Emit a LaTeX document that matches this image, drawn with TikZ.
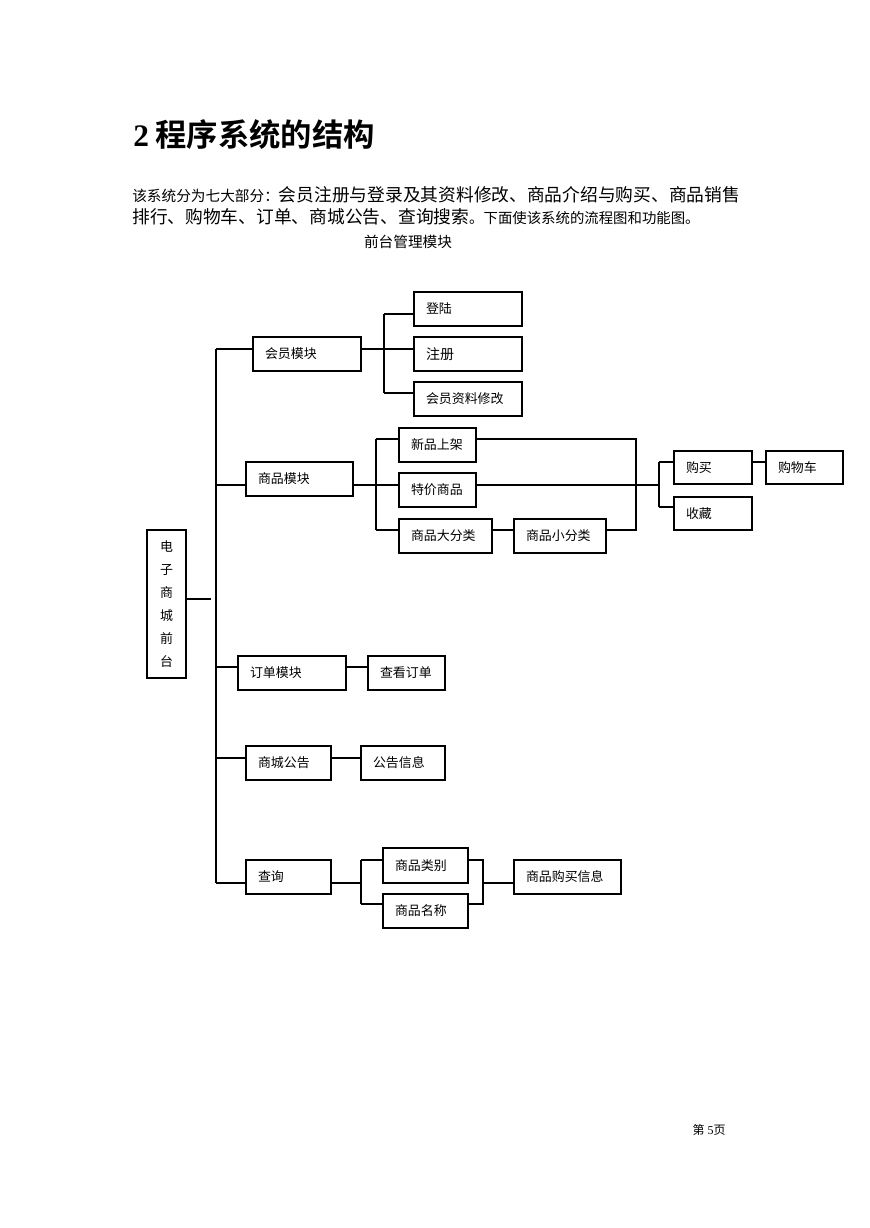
\documentclass[tikz,border=0pt]{standalone}
\usepackage{fontspec}
\setmainfont{Liberation Serif}
\newfontfamily\cjk[BoldFont={Noto Sans CJK SC Bold}]{Noto Sans CJK SC}
\begin{document}
\begin{tikzpicture}[x=0.75pt,y=-0.75pt,
  ln/.style={line width=0.9pt},
  thk/.style={line width=1.8pt},
  bx/.style={draw, line width=0.9pt, minimum height=25.5pt, inner xsep=9pt, inner ysep=0pt,
    align=left, font=\cjk\fontsize{9.7}{11}\selectfont},
  txt/.style={inner sep=0pt, anchor=base west}]
\useasboundingbox (0,0) rectangle (869,1228);
\fill[white] (0,0) rectangle (869,1228);

% heading texts
\node[txt] (title) at (133,146.5) {\bfseries\fontsize{23.5}{27}\selectfont 2\hspace{5pt}{\cjk 程序系统的结构}};
\node[txt] (intro1) at (132,201.5) {\cjk{\fontsize{11}{13}\selectfont 该系统分为七大部分：}\fontsize{13.3}{16}\selectfont 会员注册与登录及其资料修改、商品介绍与购买、商品销售};
\node[txt] (intro2) at (132,223.5) {\cjk\fontsize{13.3}{16}\selectfont 排行、购物车、订单、商城公告、查询搜索{\fontsize{10.8}{13}\selectfont 。下面使该系统的流程图和功能图。}};
\node[inner sep=0pt, anchor=base] (sub) at (408,247) {\cjk\fontsize{11}{13}\selectfont 前台管理模块};

% boxes
\node[draw, line width=0.9pt, minimum width=29.25pt, minimum height=111pt, inner sep=0pt,
  align=center, font=\cjk\fontsize{9.7}{17.25}\selectfont] (root) at (166.5,604) {电\\子\\商\\城\\前\\台};

\node[bx, text width=63pt] (hy) at (307,354) {会员模块};
\node[bx, text width=63pt] (dl) at (468,309) {登陆};
\node[bx, text width=63pt, font=\cjk\fontsize{10.5}{12}\selectfont] (zc) at (468,354) {注册};
\node[bx, text width=63pt] (zl) at (468,399) {会员资料修改};

\node[bx, text width=62.25pt] (sp) at (299.5,479) {商品模块};
\node[bx, text width=39.75pt] (xp) at (437.5,445) {新品上架};
\node[bx, text width=39.75pt] (tj) at (437.5,490) {特价商品};
\node[bx, text width=51.75pt] (dfl) at (445.5,536) {商品大分类};
\node[bx, text width=51pt] (xfl) at (560,536) {商品小分类};
\node[bx, text width=40.5pt, minimum height=24.75pt] (gm) at (713,467.5) {购买};
\node[bx, text width=40.5pt, minimum height=24.75pt] (sc) at (713,513.5) {收藏};
\node[bx, text width=39.75pt, minimum height=24.75pt] (gwc) at (804.5,467.5) {购物车};

\node[bx, text width=63pt] (dd) at (292,673) {订单模块};
\node[bx, text width=39.75pt] (ckdd) at (406.5,673) {查看订单};

\node[bx, text width=45.75pt] (scgg) at (288.5,763) {商城公告};
\node[bx, text width=45pt] (ggxx) at (403,763) {公告信息};

\node[bx, text width=45.75pt] (cx) at (288.5,877) {查询};
\node[bx, text width=45.75pt, minimum height=26.25pt] (splb) at (425.5,865.5) {商品类别};
\node[bx, text width=45.75pt] (spmc) at (425.5,911) {商品名称};
\node[bx, text width=62.25pt] (gmxx) at (567.5,877) {商品购买信息};

% junction coordinates
\coordinate (j0) at (211,599);
\coordinate (t1) at (216,349);
\coordinate (t2) at (216,485);
\coordinate (t3) at (216,667);
\coordinate (t4) at (216,758);
\coordinate (t5) at (216,883);
\coordinate (m1) at (384,314);
\coordinate (m2) at (384,349);
\coordinate (m3) at (384,393);
\coordinate (g1) at (376,439);
\coordinate (g2) at (376,485);
\coordinate (g3) at (376,530);
\coordinate (r1) at (636,439);
\coordinate (r2) at (636,530);
\coordinate (b1) at (659,462);
\coordinate (b2) at (659,485);
\coordinate (b3) at (659,507);
\coordinate (q1) at (361,860);
\coordinate (q2) at (361,883);
\coordinate (q3) at (361,904);
\coordinate (p1) at (483,860);
\coordinate (p2) at (483,883);
\coordinate (p3) at (483,904);

% connectors
\draw[ln] (root.east |- j0) -- (j0);
\draw[ln] (t1) -- (t5);
\draw[ln] (t1) -- (hy.west |- t1);
\draw[ln] (hy.east |- m2) -- (m2);
\draw[ln] (m1) -- (m3);
\draw[ln] (m1) -- (dl.west |- m1);
\draw[ln] (m2) -- (zc.west |- m2);
\draw[ln] (m3) -- (zl.west |- m3);

\draw[ln] (t2) -- (sp.west |- t2);
\draw[ln] (sp.east |- g2) -- (g2);
\draw[ln] (g1) -- (g3);
\draw[ln] (g1) -- (xp.west |- g1);
\draw[ln] (g2) -- (tj.west |- g2);
\draw[ln] (g3) -- (dfl.west |- g3);
\draw[ln] (dfl.east |- g3) -- (xfl.west |- g3);
\draw[ln] (xp.east |- r1) -- (r1) -- (r2) -- (xfl.east |- r2);
\draw[ln] (tj.east |- b2) -- (b2);
\draw[ln] (b1) -- (b3);
\draw[ln] (b1) -- (gm.west |- b1);
\draw[ln] (b3) -- (sc.west |- b3);
\draw[ln] (gm.east |- b1) -- (gwc.west |- b1);

\draw[thk] (t3) -- (dd.west |- t3);
\draw[thk] (dd.east |- t3) -- (ckdd.west |- t3);

\draw[ln] (t4) -- (scgg.west |- t4);
\draw[ln] (scgg.east |- t4) -- (ggxx.west |- t4);

\draw[ln] (t5) -- (cx.west |- t5);
\draw[ln] (cx.east |- q2) -- (q2);
\draw[ln] (q1) -- (q3);
\draw[ln] (q1) -- (splb.west |- q1);
\draw[ln] (q3) -- (spmc.west |- q3);
\draw[ln] (splb.east |- p1) -- (p1) -- (p3) -- (spmc.east |- p3);
\draw[ln] (p2) -- (gmxx.west |- p2);

% page number
\node[inner sep=0pt, anchor=base] (pg) at (709,1134) {\fontsize{9}{11}\selectfont{\cjk 第} 5{\cjk 页}};
\end{tikzpicture}
\end{document}
